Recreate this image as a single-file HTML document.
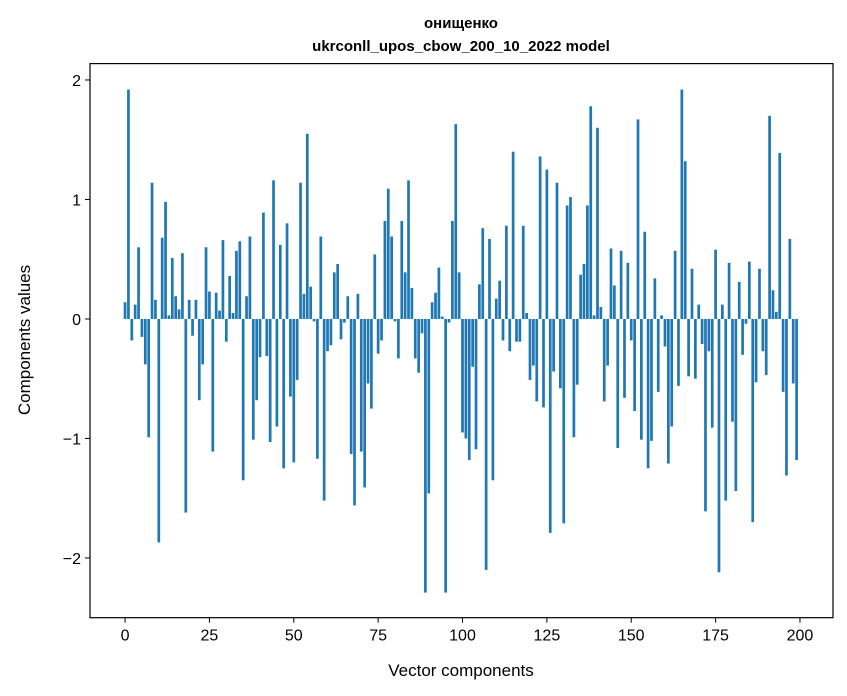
<!DOCTYPE html>
<html><head><meta charset="utf-8"><style>
html,body{margin:0;padding:0;background:#fff;}
svg{display:block;font-family:"Liberation Sans","DejaVu Sans",sans-serif;}
</style></head><body>
<svg id="chart" width="847" height="696" viewBox="0 0 847 696">
<rect x="0" y="0" width="847" height="696" fill="#fff"/>
<text x="461" y="28" text-anchor="middle" font-size="15" font-weight="bold">онищенко</text>
<text x="461" y="51" text-anchor="middle" font-size="15" font-weight="bold">ukrconll_upos_cbow_200_10_2022 model</text>
<g id="bars"></g>
<g id="xticks"></g>
<g id="yticks"></g>
<rect x="90" y="63.6" width="743" height="554.1" fill="none" stroke="#000" stroke-width="1.2"/>
<text x="461" y="676" text-anchor="middle" font-size="17">Vector components</text>
<text x="24" y="340" text-anchor="middle" font-size="17" transform="rotate(-90 24 340)" dy="6">Components values</text>
</svg>
<script>
const values = [
0.14,1.92,-0.18,0.12,0.6,-0.15,-0.38,-0.99,1.14,0.16,
-1.87,0.68,0.98,0.03,0.51,0.19,0.08,0.55,-1.62,0.16,
-0.14,0.16,-0.68,-0.38,0.6,0.23,-1.11,0.22,0.07,0.66,
-0.19,0.36,0.05,0.57,0.65,-1.35,0.19,0.69,-1.01,-0.68,
-0.32,0.89,-0.31,-1.03,1.16,-0.90,0.62,-1.25,0.80,-0.65,
-1.20,-0.51,1.14,0.21,1.55,0.27,-0.02,-1.17,0.69,-1.52,
-0.27,-0.22,0.39,0.46,-0.17,-0.03,0.19,-1.13,-1.56,0.21,
-1.11,-1.41,-0.54,-0.75,0.54,-0.29,-0.18,0.82,1.09,0.69,
-0.02,-0.33,0.82,0.39,1.16,0.26,-0.33,-0.45,-0.12,-2.29,
-1.46,0.14,0.22,0.43,0.02,-2.29,-0.03,0.82,1.63,0.39,
-0.95,-1.0,-1.18,-0.40,-1.09,0.29,0.76,-2.10,0.67,-1.35,
0.17,0.32,-0.18,0.78,-0.27,1.40,-0.19,-0.19,0.78,0.05,
-0.51,-0.39,-0.69,1.36,-0.74,1.25,-1.79,-0.44,1.14,-0.58,
-1.71,0.95,1.02,-0.99,-0.55,0.37,0.46,0.95,1.78,0.03,
1.60,0.10,-0.69,-0.39,0.59,0.28,-1.08,0.57,-0.66,0.47,
-0.18,-0.77,1.67,-1.01,0.73,-1.25,-1.02,0.34,-0.61,0.03,
-0.23,-1.21,-0.90,0.57,-0.56,1.92,1.32,-0.48,0.42,-0.50,
0.12,-0.21,-1.61,-0.27,-0.91,0.58,-2.12,0.12,-1.52,0.47,
-0.86,-1.44,0.31,-0.30,-0.04,0.48,-1.70,-0.53,0.42,-0.27,
-0.47,1.70,0.24,0.06,1.39,-0.61,-1.31,0.67,-0.54,-1.18
];
const xTicks = [0,25,50,75,100,125,150,175,200];
const yTicks = [-2,-1,0,1,2];
const yTickLabels = ["\u22122","\u22121","0","1","2"];

const NS = "http://www.w3.org/2000/svg";
const L = 90, R = 833, T = 63.6, B = 617.7;
const xMin = -10.39, xMax = 209.79, yMin = -2.5, yMax = 2.137;
function xs(v){ return L + (v - xMin) / (xMax - xMin) * (R - L); }
function ys(v){ return B - (v - yMin) / (yMax - yMin) * (B - T); }

const barsG = document.getElementById('bars');
values.forEach(function(v, i){
  const r = document.createElementNS(NS, 'rect');
  const x0 = xs(i - 0.4), x1 = xs(i + 0.4);
  const y0 = ys(Math.max(v, 0)), y1 = ys(Math.min(v, 0));
  r.setAttribute('x', x0);
  r.setAttribute('width', x1 - x0);
  r.setAttribute('y', y0);
  r.setAttribute('height', Math.max(y1 - y0, 0.5));
  r.setAttribute('fill', '#1f77b4');
  
  
  barsG.appendChild(r);
});

const xg = document.getElementById('xticks');
xTicks.forEach(function(t){
  const x = xs(t);
  const ln = document.createElementNS(NS, 'line');
  ln.setAttribute('x1', x); ln.setAttribute('x2', x);
  ln.setAttribute('y1', B); ln.setAttribute('y2', B + 5);
  ln.setAttribute('stroke', '#000'); ln.setAttribute('stroke-width', '1');
  
  
  xg.appendChild(ln);
  const tx = document.createElementNS(NS, 'text');
  tx.setAttribute('x', x); tx.setAttribute('y', B + 23);
  tx.setAttribute('text-anchor', 'middle'); tx.setAttribute('font-size', '16');
  tx.textContent = String(t);
  
  
  xg.appendChild(tx);
});

const yg = document.getElementById('yticks');
yTicks.forEach(function(t, k){
  const y = ys(t);
  const ln = document.createElementNS(NS, 'line');
  ln.setAttribute('x1', L - 5); ln.setAttribute('x2', L);
  ln.setAttribute('y1', y); ln.setAttribute('y2', y);
  ln.setAttribute('stroke', '#000'); ln.setAttribute('stroke-width', '1');
  
  
  yg.appendChild(ln);
  const tx = document.createElementNS(NS, 'text');
  tx.setAttribute('x', L - 9); tx.setAttribute('y', y + 6);
  tx.setAttribute('text-anchor', 'end'); tx.setAttribute('font-size', '16');
  tx.textContent = yTickLabels[k];
  
  
  yg.appendChild(tx);
});
</script>
</body></html>
